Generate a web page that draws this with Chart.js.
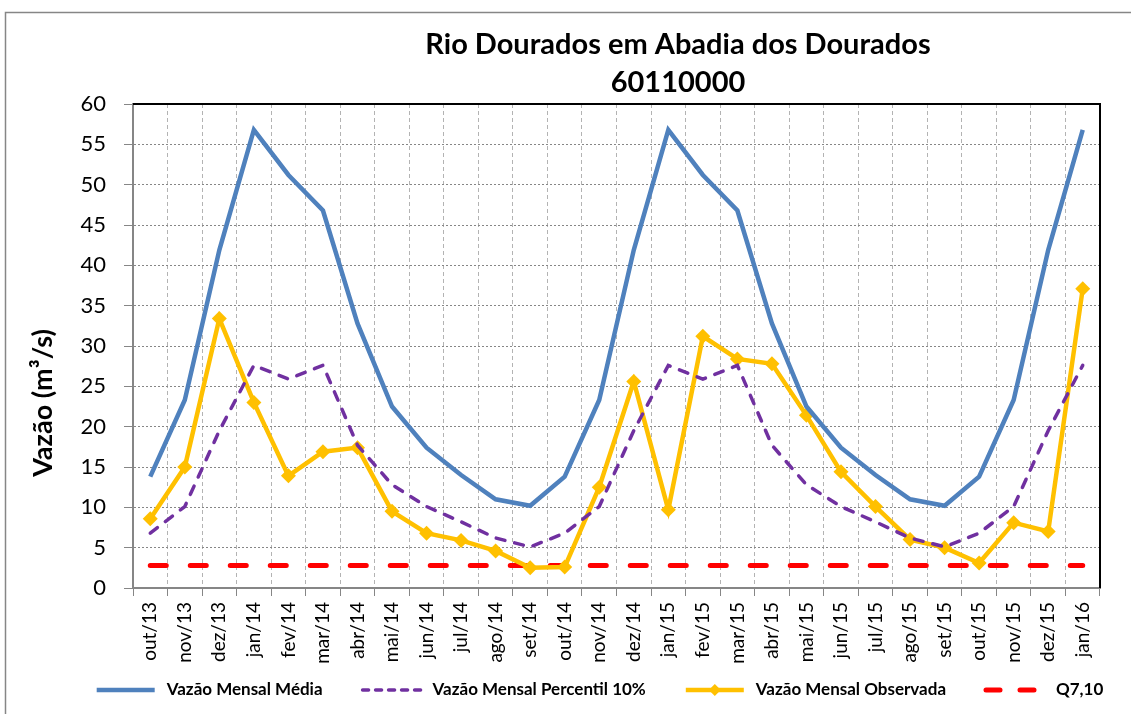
<!DOCTYPE html>
<html>
<head>
<meta charset="utf-8">
<script src="https://cdn.jsdelivr.net/npm/chart.js@4/dist/chart.umd.min.js"></script>
<style>
  html, body { margin: 0; padding: 0; background: #fff; }
</style>
</head>
<body>
<canvas id="myChart" width="1131" height="714"></canvas>
<script>
// Fonts / colours
const FONT = "Lato, 'Open Sans', Arial, sans-serif";
const COLORS = {
    MEDIA: '#4F81BD',
    P10: '#7030A0',
    OBS: '#FFC000',
    Q710: '#FF0000',
    GRID: '#868686',
    GRID_X: '#b3b3b3',
    FRAME: '#868686'
};

// Monthly flows (m³/s)
const months = ['out/13', 'nov/13', 'dez/13', 'jan/14', 'fev/14', 'mar/14', 'abr/14', 'mai/14', 'jun/14',
    'jul/14', 'ago/14', 'set/14', 'out/14', 'nov/14', 'dez/14', 'jan/15', 'fev/15', 'mar/15', 'abr/15',
    'mai/15', 'jun/15', 'jul/15', 'ago/15', 'set/15', 'out/15', 'nov/15', 'dez/15', 'jan/16'];
const vazaoMedia = [13.8, 23.3, 41.9, 56.8, 51.2, 46.8, 32.8, 22.5, 17.4, 14.0, 11.0, 10.2, 13.8, 23.3,
    41.9, 56.8, 51.2, 46.8, 32.8, 22.5, 17.4, 14.0, 11.0, 10.2, 13.8, 23.3, 41.9, 56.8];
const vazaoP10 = [6.8, 10.1, 19.5, 27.6, 25.9, 27.6, 17.7, 12.8, 10.1, 8.2, 6.2, 5.1, 6.8, 10.1,
    19.5, 27.6, 25.9, 27.6, 17.7, 12.8, 10.1, 8.2, 6.2, 5.1, 6.8, 10.1, 19.5, 27.6];
const vazaoObservada = [8.6, 15.0, 33.4, 23.0, 13.9, 16.9, 17.4, 9.5, 6.8, 5.9, 4.6, 2.5, 2.6, 12.5,
    25.6, 9.7, 31.2, 28.4, 27.8, 21.4, 14.4, 10.1, 6.0, 5.0, 3.1, 8.1, 7.0, 37.1];
const q710 = months.map(() => 2.8);

const titleLines = ['Rio Dourados em Abadia dos Dourados', '60110000'];
const yTitle = 'Vazão (m³/s)';

// Title, axis title, frame, plot border and legend drawn by hand
const decorations = {
    id: 'decorations',
    beforeDraw(chart) {
        const ctx = chart.ctx;
        ctx.save();
        ctx.fillStyle = '#fff';
        ctx.fillRect(0, 0, chart.width, chart.height);
        ctx.strokeStyle = COLORS.FRAME;
        ctx.lineWidth = 1.5;
        ctx.strokeRect(5.5, 12.5, chart.width + 10, chart.height + 10);
        ctx.restore();
    },
    afterDraw(chart) {
        const ctx = chart.ctx;
        const { left, right, top, bottom } = chart.chartArea;
        ctx.save();

        // top and right border of plot area
        ctx.strokeStyle = '#000';
        ctx.lineWidth = 2;
        ctx.beginPath();
        ctx.moveTo(left, top);
        ctx.lineTo(right, top);
        ctx.lineTo(right, bottom);
        ctx.stroke();

        // title
        ctx.fillStyle = '#000';
        ctx.font = 'bold 29px ' + FONT;
        ctx.textAlign = 'center';
        ctx.textBaseline = 'middle';
        ctx.fillText(titleLines[0], 678, 45);
        ctx.fillText(titleLines[1], 678, 83);

        // y axis title
        ctx.save();
        ctx.translate(43, 403);
        ctx.rotate(-Math.PI / 2);
        ctx.font = 'bold 27px ' + FONT;
        ctx.fillText(yTitle, 0, 0);
        ctx.restore();

        // legend
        const items = chart.data.datasets;
        ctx.font = 'bold 17px ' + FONT;
        const sampleW = 66, textGap = 8, itemGap = 36;
        const widths = items.map(ds => sampleW + textGap + ctx.measureText(ds.label).width);
        const total = widths.reduce((a, b) => a + b, 0) + itemGap * (items.length - 1);
        let x = 598 - total / 2;
        const y = 690;
        items.forEach((ds, i) => {
            ctx.save();
            ctx.strokeStyle = ds.borderColor;
            ctx.lineWidth = ds.borderWidth;
            ctx.lineCap = ds.borderCapStyle || 'butt';
            ctx.setLineDash(ds.legendDash || []);
            ctx.beginPath();
            ctx.moveTo(x + 4, y);
            ctx.lineTo(x + sampleW - 4, y);
            ctx.stroke();
            if (ds.pointStyle === 'rectRot') {
                const cx = x + sampleW / 2, r = 6;
                ctx.fillStyle = ds.borderColor;
                ctx.beginPath();
                ctx.moveTo(cx, y - r);
                ctx.lineTo(cx + r, y);
                ctx.lineTo(cx, y + r);
                ctx.lineTo(cx - r, y);
                ctx.closePath();
                ctx.fill();
            }
            ctx.restore();
            ctx.fillStyle = '#000';
            ctx.textAlign = 'left';
            ctx.fillText(ds.label, x + sampleW + textGap, y);
            x += widths[i] + itemGap;
        });
        ctx.restore();
    }
};

const dataset = {
    labels: months,
    datasets: [{
        label: 'Vazão Mensal Média',
        data: vazaoMedia,
        borderColor: COLORS.MEDIA,
        backgroundColor: COLORS.MEDIA,
        borderWidth: 4.5,
        pointRadius: 0
    }, {
        label: 'Vazão Mensal Percentil 10%',
        data: vazaoP10,
        borderColor: COLORS.P10,
        backgroundColor: COLORS.P10,
        borderWidth: 3.5,
        borderCapStyle: 'round',
        borderDash: [9, 10],
        legendDash: [6, 7],
        pointRadius: 0
    }, {
        label: 'Vazão Mensal Observada',
        data: vazaoObservada,
        borderColor: COLORS.OBS,
        backgroundColor: COLORS.OBS,
        borderWidth: 4.5,
        pointStyle: 'rectRot',
        pointRadius: 7.5,
        pointBorderWidth: 0
    }, {
        label: 'Q7,10',
        data: q710,
        borderColor: COLORS.Q710,
        backgroundColor: COLORS.Q710,
        borderWidth: 5,
        borderCapStyle: 'round',
        borderDash: [16, 24],
        legendDash: [14, 20],
        pointRadius: 0
    }]
};

const options = {
    responsive: false,
    animation: false,
    layout: {
        padding: { top: 104, right: 31, bottom: 46, left: 0 }
    },
    elements: { line: { tension: 0 } },
    scales: {
        x: {
            offset: true,
            afterFit: (axis) => { axis.height = 80; },
            grid: {
                offset: true,
                color: COLORS.GRID_X,
                tickLength: 8,
                tickColor: COLORS.GRID,
                tickBorderDash: []
            },
            border: { color: COLORS.GRID, width: 2, dash: [4, 3] },
            ticks: {
                color: '#000',
                font: { family: FONT, size: 19 },
                minRotation: 90,
                maxRotation: 90,
                autoSkip: false,
                padding: 6
            }
        },
        y: {
            min: 0,
            max: 60,
            afterFit: (axis) => { axis.width = 133; },
            grid: {
                color: COLORS.GRID,
                tickLength: 9,
                tickColor: COLORS.GRID,
                tickBorderDash: []
            },
            border: { color: COLORS.GRID, width: 2, dash: [2, 2] },
            ticks: {
                stepSize: 5,
                color: '#000',
                font: { family: FONT, size: 22 },
                padding: 18
            }
        }
    },
    plugins: {
        legend: { display: false },
        title: { display: false },
        tooltip: { enabled: false }
    }
};

new Chart(document.getElementById('myChart'), {
    type: 'line',
    data: dataset,
    options: options,
    plugins: [decorations]
});
</script>
</body>
</html>
